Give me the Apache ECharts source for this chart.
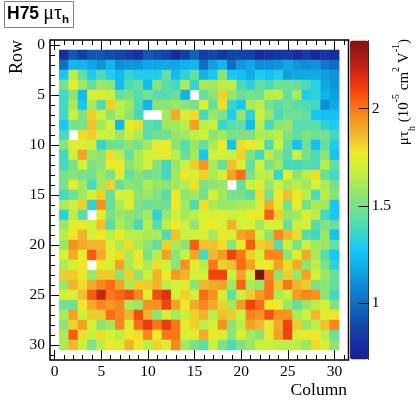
<!DOCTYPE html>
<html><head><meta charset="utf-8">
<style>html,body{margin:0;padding:0;background:#fff}#c{width:419px;height:409px}</style>
<script src="https://cdn.jsdelivr.net/npm/echarts@6/dist/echarts.min.js"></script>
</head><body><div id="c"></div>
<script>
const categories = Array.from({length:32},(_,i)=>String(i));
const row1=[.78,.93,.85,.92,.92,.90,.88,.85,.80,.93,.90,.87,.78,.85,.96,.85,.88,.82,.87,.87,.87,.78,.80,.82,.83,.77,.84,.76,.82,.78];
const row2=[1.0,1.22,1.22,1.17,1.12,1.22,1.1,1.13,1.12,1.17,1.17,1.18,1.17,1.2,1.21,1.0,1.15,1.22,1.0,1.13,1.17,1.1,1.1,1.12,1.17,1.12,1.1,1.12,1.03,1.0];
const row3=[1.28,1.65,1.45,1.3,1.4,1.3,1.23,1.35,1.3,1.3,1.3,1.45,1.23,1.33,1.45,1.2,1.27,1.55,1.28,1.25,1.18,1.3,1.25,1.3,1.15,1.17,1.17,1.17,1.15,1.12];
const row4=[1.5,1.75,1.6,1.45,1.58,1.55,1.23,1.4,1.45,1.23,1.55,1.42,1.38,1.62,1.35,1.62,1.6,1.65,1.65,1.4,1.33,1.45,1.4,1.48,1.48,1.45,1.4,1.32,1.17,1.12];
const row5=[1.37,1.55,1.23,1.7,1.72,1.68,1.45,1.5,1.42,1.5,1.42,1.42,1.45,1.2,null,1.45,1.55,1.82,1.58,1.47,1.5,1.47,1.65,1.65,1.45,1.62,1.3,1.33,1.2,1.15];
const row6=[1.38,1.62,1.27,1.62,1.4,1.82,1.65,1.6,1.4,1.2,1.55,1.55,1.58,1.55,1.5,1.7,1.45,1.8,1.35,1.27,1.62,1.65,1.5,1.42,1.48,1.42,1.4,1.37,1.1,1.18];
const row7=[1.37,1.68,1.52,1.82,1.68,1.55,1.65,1.55,1.38,null,null,1.6,1.9,1.72,1.8,1.38,1.58,1.52,1.3,1.57,1.33,1.68,1.58,1.38,1.48,1.48,1.45,1.27,1.25,1.25];
const row8=[1.27,1.5,1.5,1.85,1.6,1.7,1.22,1.75,1.8,1.42,1.4,1.6,1.6,1.65,1.92,1.65,1.68,1.35,1.42,1.45,1.24,1.65,1.38,1.55,1.58,1.42,1.42,1.42,1.33,1.3];
const row9=[1.38,null,1.8,1.82,1.68,1.68,1.58,1.68,1.62,1.42,1.47,1.47,1.57,1.6,1.65,1.7,1.55,1.6,1.5,1.52,1.52,1.62,1.62,1.65,1.52,1.45,1.52,1.48,1.5,1.38];
const row10=[1.55,1.75,1.72,1.68,1.35,1.47,1.48,1.55,1.5,1.6,1.75,1.77,1.55,1.42,1.58,1.45,1.62,1.77,1.25,1.8,1.77,1.7,1.4,1.68,1.45,1.25,1.48,1.25,1.45,1.3];
const row11=[1.37,1.68,1.92,1.58,1.55,1.8,1.65,1.45,1.62,1.7,1.72,1.75,1.65,1.45,1.6,1.27,1.7,1.7,1.68,1.82,1.52,1.37,1.65,1.55,1.42,1.68,1.5,1.4,1.55,1.25];
const row12=[1.38,1.5,1.7,1.52,1.55,1.77,1.77,1.55,1.62,1.7,1.52,1.37,1.58,1.68,1.83,1.94,1.62,1.45,1.85,1.72,1.45,1.7,1.5,1.6,1.38,1.37,1.42,1.4,1.65,1.45];
const row13=[1.5,1.55,1.5,1.48,1.6,1.5,1.72,1.45,1.55,1.47,1.5,1.37,1.6,1.78,1.7,1.82,1.62,1.7,1.92,2.02,1.5,1.65,1.65,1.35,1.75,1.55,1.65,1.8,1.45,1.37];
const row14=[1.5,1.75,1.6,1.38,1.6,1.82,1.45,1.55,1.52,1.63,1.57,1.55,1.6,1.63,1.79,1.51,1.55,1.58,null,1.45,1.68,1.72,1.57,1.68,1.6,1.65,1.6,1.7,1.62,1.5];
const row15=[1.37,1.47,1.6,1.7,1.82,1.45,1.7,1.7,1.55,1.58,1.52,1.42,1.78,1.55,1.6,1.49,1.72,1.6,1.5,1.5,1.42,1.8,1.5,1.78,1.85,1.78,1.65,1.4,1.65,1.55];
const row16=[1.62,1.68,1.82,1.33,1.95,1.45,1.62,1.75,1.52,1.47,1.5,1.47,1.78,1.6,1.4,1.8,1.62,1.58,1.58,1.62,1.62,1.72,1.9,1.75,1.5,1.77,1.5,1.62,1.6,1.28];
const row17=[1.33,1.65,1.42,null,1.75,1.5,1.58,1.55,1.52,1.6,1.33,1.58,1.68,1.6,1.65,1.72,1.72,1.72,1.68,1.7,1.77,1.78,2.05,1.82,1.58,1.6,1.72,1.65,1.38,1.28];
const row18=[1.58,1.75,1.75,1.7,1.85,1.42,1.62,1.55,1.38,1.65,1.42,1.65,1.78,1.68,1.56,1.75,1.77,1.7,1.88,1.7,1.7,1.6,1.7,1.72,1.45,1.68,1.7,1.42,1.52,1.45];
const row19=[1.65,1.78,1.88,1.7,1.78,1.65,1.77,1.65,1.65,1.62,1.62,1.4,1.85,1.68,1.7,1.7,1.6,1.78,1.72,1.92,1.95,1.7,1.55,1.97,1.87,1.8,1.42,1.37,1.58,1.25];
const row20=[1.58,1.95,1.9,1.87,1.87,1.72,1.62,1.8,1.62,1.55,1.45,1.82,1.62,1.55,2.05,1.85,1.85,1.8,1.55,1.77,2.05,1.82,1.85,1.42,1.68,1.5,1.68,1.6,1.58,1.45];
const row21=[1.72,1.9,1.75,2.05,1.9,1.75,1.8,1.62,1.78,1.5,1.65,1.92,1.55,1.68,1.91,1.38,1.87,1.93,2.1,2.0,1.82,1.7,1.97,1.97,1.55,1.75,1.9,1.62,1.42,1.28];
const row22=[1.62,1.7,1.78,null,1.78,1.7,1.92,1.62,1.75,1.62,1.8,1.68,1.55,1.95,1.75,1.65,2.0,1.82,1.85,2.02,1.92,1.77,1.77,1.92,1.8,1.9,1.55,1.65,1.52,1.33];
const row23=[1.83,1.83,1.78,1.58,1.83,1.83,1.55,1.82,1.55,1.68,1.88,1.77,1.93,1.88,1.7,1.7,2.1,2.1,1.68,1.92,1.7,2.35,1.97,1.55,1.82,1.58,1.92,1.7,1.58,1.47];
const row24=[1.58,1.88,1.8,1.9,1.97,2.02,1.92,1.62,1.82,1.83,1.88,1.65,1.7,1.75,1.55,1.87,1.9,1.92,1.6,2.03,1.62,1.58,2.0,1.83,2.0,1.87,1.83,1.52,1.55,1.45];
const row25=[1.72,1.72,1.85,2.05,2.2,2.0,2.03,2.08,1.97,1.75,2.08,2.15,1.7,1.82,1.69,2.02,1.95,1.7,1.45,1.68,1.83,1.93,2.0,1.62,1.68,1.93,1.97,1.95,1.55,1.37];
const row26=[1.48,1.48,1.78,1.9,1.97,1.93,1.97,1.62,1.58,1.95,1.95,2.1,1.92,1.77,1.9,1.97,1.9,1.82,1.6,1.93,2.1,2.02,1.78,1.77,1.58,1.45,1.58,1.65,1.7,1.52];
const row27=[1.62,1.92,1.68,1.83,1.83,2.02,1.97,1.88,2.08,1.88,1.55,1.7,1.6,1.68,1.82,1.88,1.65,1.85,1.83,1.68,1.98,1.95,2.07,1.95,1.95,1.62,1.68,1.87,1.73,1.78];
const row28=[1.55,1.82,1.92,1.7,1.55,1.6,1.97,1.72,2.02,2.12,2.0,2.12,2.0,1.75,1.82,1.65,1.7,1.95,1.55,1.65,1.92,1.87,1.75,1.9,2.1,1.83,1.58,1.65,1.85,1.97];
const row29=[1.62,2.05,1.8,1.68,1.8,1.7,1.65,1.78,1.8,1.97,1.77,2.0,2.0,1.7,1.73,1.89,1.78,1.72,1.55,1.72,1.6,1.55,1.78,1.92,2.1,1.72,1.77,1.77,1.65,1.47];
const row30=[1.62,1.87,1.68,1.52,1.65,1.77,1.73,1.88,1.78,1.65,1.82,1.72,1.97,1.6,1.5,1.43,1.68,1.52,1.4,1.52,1.58,1.68,1.68,1.65,1.65,1.65,1.58,1.8,1.7,1.55];
const rows=[row1,row2,row3,row4,row5,row6,row7,row8,row9,row10,row11,row12,row13,row14,row15,row16,row17,row18,row19,row20,row21,row22,row23,row24,row25,row26,row27,row28,row29,row30];
const barTicks=[1,1.5,2];
const palette=['#1c1c90','#1630a0','#1244a8','#1060b8','#1278cc','#1094da','#10b4ea','#18c8f8','#40d8c4','#64dea0','#84e280','#a8ea58','#d0f238','#eeea28','#f0bc30','#f59820','#fc6a18','#f24010','#ce2814','#a81c14','#7f1212'];

const data=[];
rows.forEach((r,i)=>r.forEach((v,j)=>{ if(v!==null) data.push([j+1,i+1,v]); }));

const SERIF='"Liberation Serif"', SANS='"Liberation Sans"';
const G={left:50,top:40,width:298.5,height:320};
const isMajor=i=>i%5===0;
const line={lineStyle:{color:'#000',width:1}};
function xAx(grid,pos,major,labels){return {type:'category',gridIndex:grid,position:pos,data:categories,boundaryGap:true,
  axisLine:{show:false},
  axisTick:{show:true,inside:true,alignWithLabel:true,length:major?10:5,interval:major?(i=>isMajor(i)):0,...line},
  axisLabel:{show:labels,interval:i=>isMajor(i),fontFamily:SERIF,fontSize:15.5,color:'#000',margin:4},splitLine:{show:false}};}
function yAx(grid,major,labels){return {type:'category',gridIndex:grid,position:'left',inverse:true,data:categories,boundaryGap:true,
  axisLine:{show:false},
  axisTick:{show:true,inside:true,alignWithLabel:true,length:major?10:5,interval:major?(i=>isMajor(i)):0,...line},
  axisLabel:{show:labels,interval:i=>isMajor(i),fontFamily:SERIF,fontSize:15.5,color:'#000',margin:5},splitLine:{show:false}};}

const option={
  animation:false,backgroundColor:'#fff',
  grid:[
    {...G,show:true,borderColor:'#000',borderWidth:1.5,backgroundColor:'#fff',z:0},
    {...G},
    {left:368.7,top:40.5,width:1,height:319}
  ],
  xAxis:[xAx(0,'bottom',true,true),xAx(0,'top',true,false),xAx(1,'bottom',false,false),xAx(1,'top',false,false),
    {type:'value',gridIndex:2,min:0,max:1,show:false}],
  yAxis:[yAx(0,true,true),yAx(1,false,false),
    {type:'value',gridIndex:2,position:'left',min:0.71,max:2.35,zlevel:5,z:10,
     axisLine:{show:true,lineStyle:{color:'#000',width:1,opacity:0.7}},
     axisTick:{show:true,inside:false,length:10,customValues:barTicks,lineStyle:{color:'#000',width:1}},
     axisLabel:{show:true,inside:true,customValues:barTicks,formatter:v=>String(v),fontFamily:SERIF,fontSize:15.5,color:'#000',margin:3,hideOverlap:false},
     splitLine:{show:false}}],
  visualMap:{type:'continuous',min:0.71,max:2.35,seriesIndex:0,calculable:false,show:true,left:350,top:40.5,itemWidth:18.7,itemHeight:319,
    text:null,showLabel:false,padding:0,z:1,inRange:{color:palette},hoverLink:false,realtime:false},
  series:[{type:'heatmap',xAxisIndex:0,yAxisIndex:0,data:data,itemStyle:{borderWidth:0},z:1,silent:true,progressive:0}],
  graphic:[
    {type:'rect',shape:{x:4.5,y:1.5,width:69,height:26},style:{fill:'#fff',stroke:'#808080',lineWidth:1},z:20},
    {type:'text',x:7,y:14,z:21,style:{text:'{a|H75}{g| }{b|μτ}{c|h}',rich:{
      a:{fontFamily:SANS,fontWeight:'bold',fontSize:17.5,fill:'#000',lineHeight:24},
      g:{fontFamily:SANS,fontSize:15,fill:'#000',lineHeight:24},
      b:{fontFamily:SERIF,fontSize:20,fill:'#000',lineHeight:24},
      c:{fontFamily:SANS,fontWeight:'bold',fontSize:11.5,fill:'#000',verticalAlign:'bottom',lineHeight:24,padding:[8,0,0,0]}},
      verticalAlign:'middle',align:'left'}},
    {type:'text',x:17,y:57,rotation:Math.PI/2,z:21,style:{text:'Row',font:'18px '+SERIF,fill:'#000',align:'center',verticalAlign:'middle'}},
    {type:'text',x:347,y:390,z:21,style:{text:'Column',font:'17.5px '+SERIF,fill:'#000',align:'right',verticalAlign:'middle'}},
    {type:'text',x:404.5,y:39,rotation:Math.PI/2,z:21,style:{text:'{a|μτ}{s|h}{a| (10}{u|-5}{a| cm}{u|2}{a| V}{u|-1}{a|)}',align:'right',verticalAlign:'middle',rich:{
      a:{fontFamily:SERIF,fontSize:15,fill:'#000',lineHeight:26},
      s:{fontFamily:SERIF,fontSize:10,fill:'#000',lineHeight:26,verticalAlign:'bottom',padding:[0,0,0,0]},
      u:{fontFamily:SERIF,fontSize:10,fill:'#000',lineHeight:20,verticalAlign:'top'}}}}
  ]
};
const chart=echarts.init(document.getElementById('c'),null,{renderer:'canvas',width:419,height:409});
chart.setOption(option);
</script></body></html>
